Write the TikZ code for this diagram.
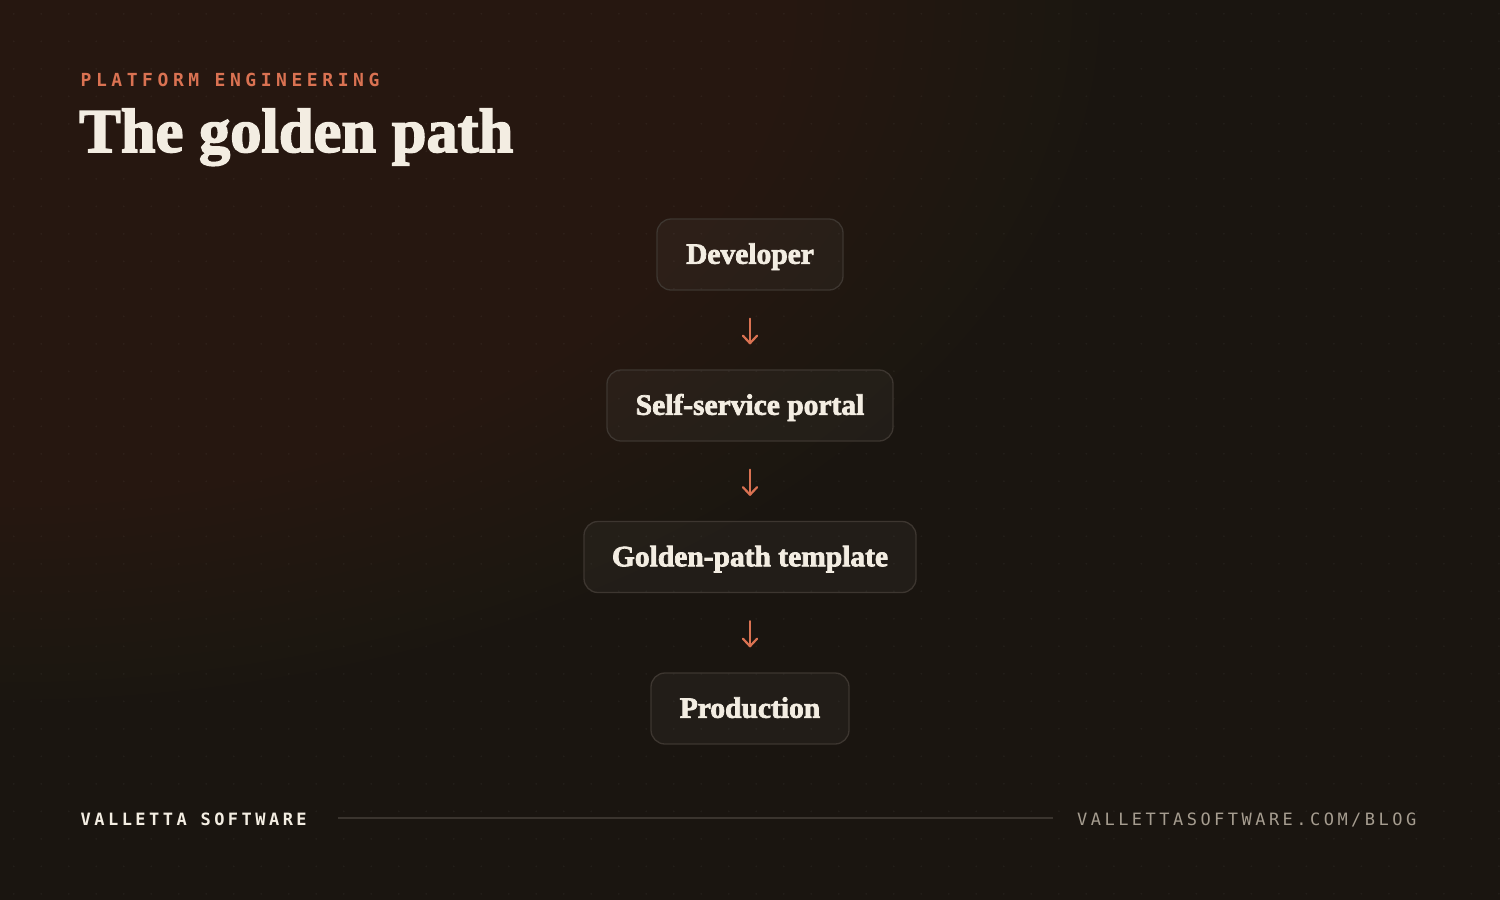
\documentclass[tikz,border=0pt]{standalone}
\usepackage{fontspec}
\usetikzlibrary{arrows.meta}
\newfontfamily\dispfont{Liberation Serif}[BoldFeatures={FakeBold=2.5}]
\newfontfamily\vmono{DejaVu Sans Mono}
\definecolor{bgbase}{HTML}{1A1510}
\definecolor{glowTL}{HTML}{38291D}
\definecolor{glowBR}{HTML}{2C2119}
\definecolor{accent}{HTML}{DA7252}
\definecolor{cream}{HTML}{F3EDE2}
\definecolor{muted}{HTML}{A69D90}
\definecolor{rulec}{HTML}{3A342E}
\definecolor{boxline}{HTML}{3D3630}
\tikzset{
  flowbox/.style={draw=boxline, line width=1.3pt, fill=white, fill opacity=0.035, text opacity=1,
    rounded corners=14pt, minimum height=71pt, inner sep=0pt, text=cream,
    text height=19.5pt, text depth=1pt,
    font=\dispfont\bfseries\fontsize{29.5}{30}\selectfont},
  flowarrow/.style={draw=accent, line width=2.2pt, line cap=round,
    -{Straight Barb[length=7.5pt,width=14pt,round]}, shorten <=28pt, shorten >=25pt},
  kicker/.style={inner sep=0pt, text=accent, font=\vmono\bfseries\fontsize{18}{18}\selectfont\addfontfeature{LetterSpace=25.3}},
  footl/.style={inner sep=0pt, text=cream, font=\vmono\bfseries\fontsize{17}{17}\selectfont\addfontfeature{LetterSpace=20.4}},
  footr/.style={inner sep=0pt, text=muted, font=\vmono\fontsize{17}{17}\selectfont\addfontfeature{LetterSpace=20.4}},
}
\begin{document}
\begin{tikzpicture}[x=1pt,y=-1pt]
\useasboundingbox (0,0) rectangle (1500,900);
\begin{scope}
\clip (0,0) rectangle (1500,900);
\fill[bgbase] (0,0) rectangle (1500,900);
\foreach \k in {0,...,39} {
  \fill[glowTL, opacity=0.055] (0,0) ellipse [x radius={1100*(1-\k/40)}, y radius={700*(1-\k/40)}];
}
\foreach \k in {0,...,29} {
  \fill[glowBR, opacity=0.05] (1500,900) ellipse [x radius={700*(1-\k/30)}, y radius={520*(1-\k/30)}];
}
\fill[white, opacity=0.045] \foreach \i in {0,...,54} { \foreach \j in {0,...,32} { (13.75+27.5*\i, 13.75+27.5*\j) circle (1.0) } };
\end{scope}

\node[kicker, anchor=base west] (kick) at (80.5,86) {PLATFORM ENGINEERING};
\node[inner sep=0pt, text=cream, anchor=base west, font=\dispfont\bfseries\fontsize{62.5}{63}\selectfont] (title) at (79,152) {The golden path};

\node[flowbox, minimum width=186pt] (dev) at (750,254.5) {Developer};
\node[flowbox, minimum width=286pt] (portal) at (750,405.5) {Self-service portal};
\node[flowbox, minimum width=332pt] (tmpl) at (750,557) {Golden-path template};
\node[flowbox, minimum width=198pt] (prod) at (750,708.5) {Production};

\draw[flowarrow] (dev.south) -- (portal.north);
\draw[flowarrow] (portal.south) -- (tmpl.north);
\draw[flowarrow] (tmpl.south) -- (prod.north);

\node[footl, anchor=base west] (brand) at (80.5,825) {VALLETTA SOFTWARE};
\node[footr, anchor=base east] (url) at (1416.5,825) {VALLETTASOFTWARE.COM/BLOG};
\coordinate (ruleL) at (338,818);
\coordinate (ruleR) at (1053,818);
\draw[rulec, line width=1.2pt] (ruleL) -- (ruleR);
\end{tikzpicture}
\end{document}
